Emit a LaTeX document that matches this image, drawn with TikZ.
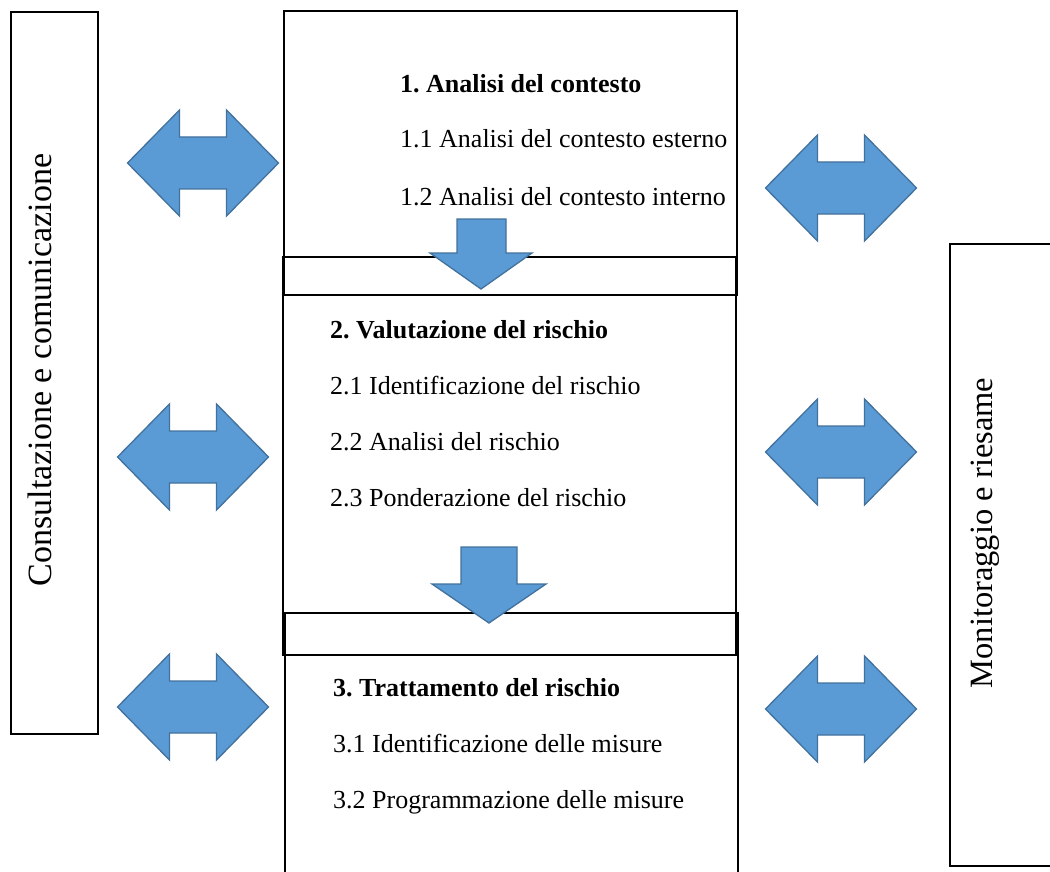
\documentclass[tikz,border=0pt]{standalone}
\usepackage{fontspec}
\setmainfont{Liberation Serif}
\frenchspacing
\definecolor{arrfill}{HTML}{5B9BD5}
\definecolor{arrline}{HTML}{41719C}
\tikzset{
  box/.style={draw=black, line width=2.2pt, inner sep=0pt, outer sep=0pt, anchor=north west},
  body/.style={font=\fontsize{26}{30}\selectfont, anchor=base west, inner sep=0pt},
  headtxt/.style={font=\fontsize{26}{30}\selectfont\bfseries, anchor=base west, inner sep=0pt},
  side/.style={rotate=90, inner sep=0pt},
  blockarrow/.style={fill=arrfill, draw=arrline, line width=1.3pt, line join=miter},
  pics/dblarrow/.style={code={
    \path[blockarrow] (-75.5,0) -- (-23.5,-53) -- (-23.5,-26) -- (23.5,-26) -- (23.5,-53)
      -- (75.5,0) -- (23.5,53) -- (23.5,26) -- (-23.5,26) -- (-23.5,53) -- cycle;
  }},
}
\begin{document}
\begin{tikzpicture}[x=1pt,y=-1pt]
\useasboundingbox (0,0) rectangle (1050,872);
\clip (0,0) rectangle (1050,872);
% boxes
\node[box, minimum width=87pt, minimum height=722pt] (comm) at (11,12) {};
\node[box, minimum width=120pt, minimum height=622pt] (mon) at (950,244) {};
\node[box, minimum width=453pt, minimum height=284pt] (b1) at (284,11) {};
\node[box, minimum width=453pt, minimum height=398pt] (b2) at (283,257) {};
\node[box, minimum width=453pt, minimum height=280pt] (b3) at (285,613) {};
% side texts
\node[side, font=\fontsize{34}{40}\selectfont] (tcomm) at (40,370) {Consultazione e comunicazione};
\node[side, font=\fontsize{32.5}{38}\selectfont] (tmon) at (985,533) {Monitoraggio e riesame};
% box 1 texts
\node[headtxt] (h1) at (400,93) {1. Analisi del contesto};
\node[body] (t11) at (400,148) {1.1 Analisi del contesto esterno};
\node[body] (t12) at (400,205) {1.2 Analisi del contesto interno};
% box 2 texts
\node[headtxt] (h2) at (330,338) {2. Valutazione del rischio};
\node[body] (t21) at (330,394) {2.1 Identificazione del rischio};
\node[body] (t22) at (330,450) {2.2 Analisi del rischio};
\node[body] (t23) at (330,506) {2.3 Ponderazione del rischio};
% box 3 texts
\node[headtxt] (h3) at (333,696) {3. Trattamento del rischio};
\node[body] (t31) at (333,752) {3.1 Identificazione delle misure};
\node[body] (t32) at (333,808) {3.2 Programmazione delle misure};
% double arrows
\pic at (203,163) {dblarrow};
\pic at (841,188) {dblarrow};
\pic at (193,457) {dblarrow};
\pic at (841,452) {dblarrow};
\pic at (193,707) {dblarrow};
\pic at (841,709) {dblarrow};
% down arrows
\path[blockarrow] (457,219) -- (506,219) -- (506,253) -- (532,253) -- (481,289)
  -- (430,253) -- (457,253) -- cycle;
\path[blockarrow] (461,547) -- (517,547) -- (517,584) -- (546,584) -- (489,623)
  -- (432,584) -- (461,584) -- cycle;
\end{tikzpicture}
\end{document}
